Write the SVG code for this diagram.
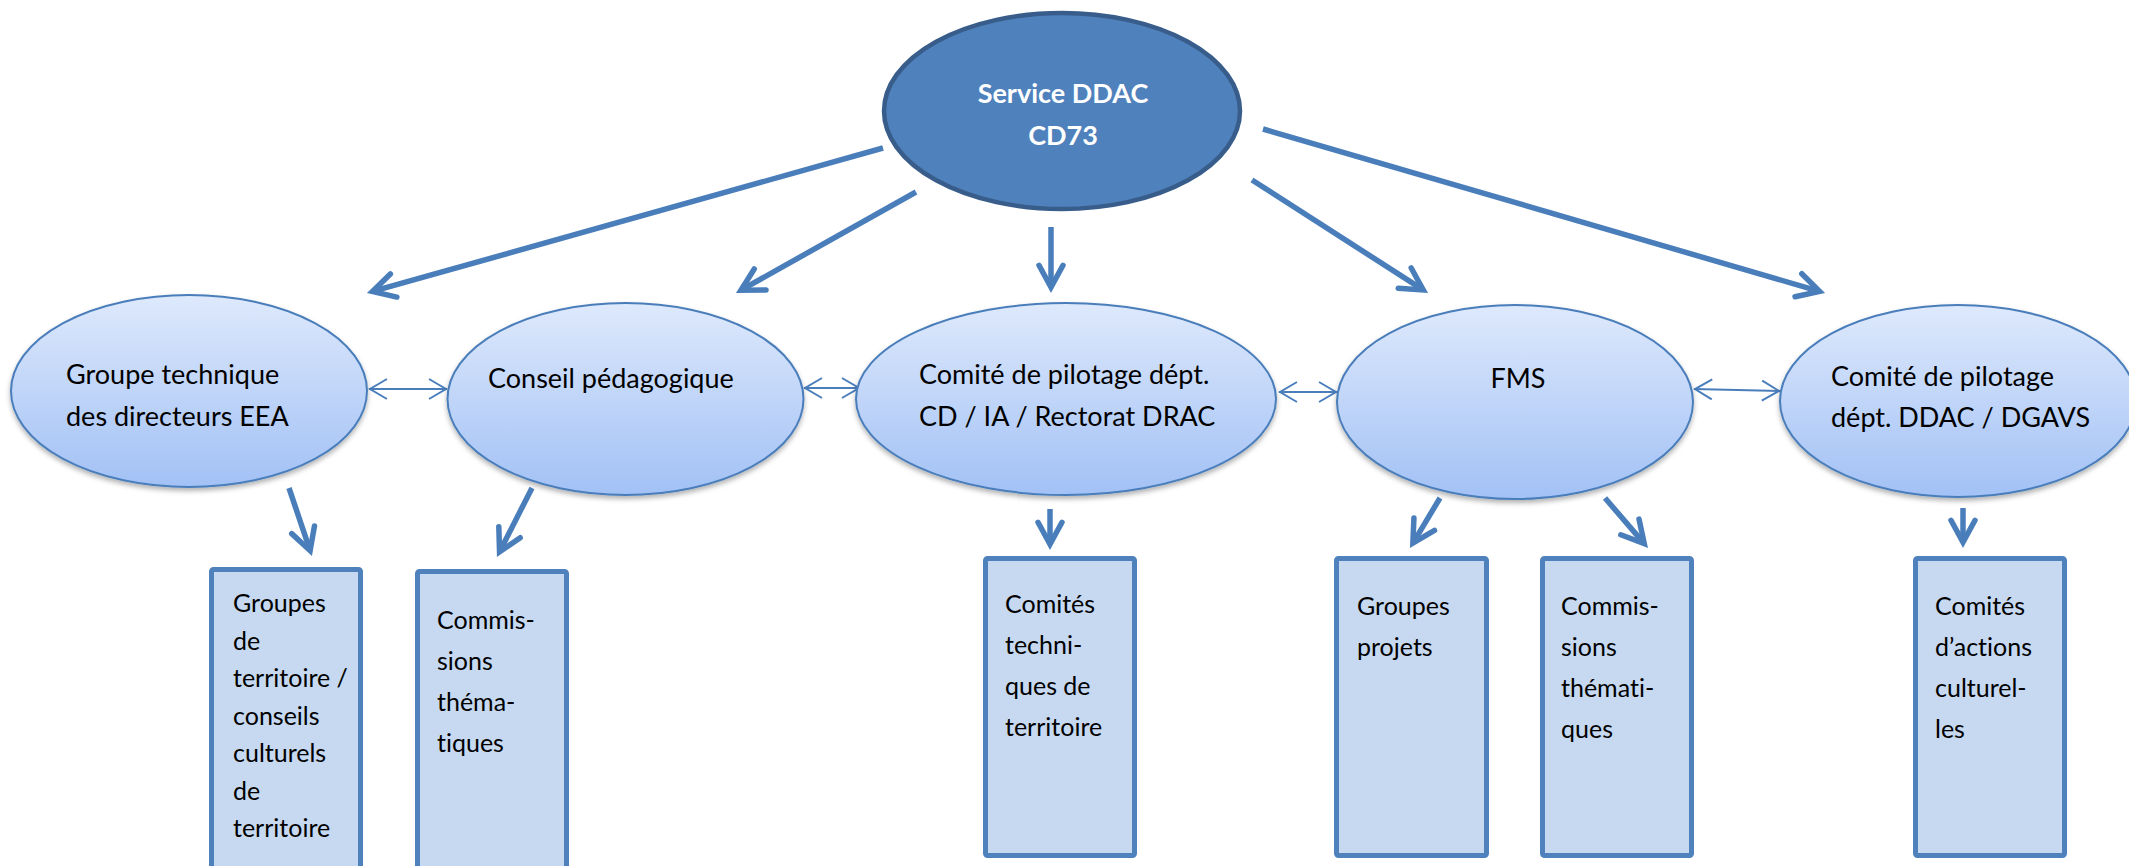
<svg xmlns="http://www.w3.org/2000/svg" width="2129" height="866" viewBox="0 0 2129 866">
<style>
text{font-variant-ligatures:none;font-feature-settings:"liga" 0,"clig" 0}
.lbl{font-family:Lato,"Open Sans","Liberation Sans",sans-serif;font-size:27px;fill:#000}
.box{font-family:Lato,"Open Sans","Liberation Sans",sans-serif;font-size:25px;fill:#000}
.top{font-family:Lato,"Open Sans","Liberation Sans",sans-serif;font-size:27px;font-weight:bold;fill:#fff}
.ell{fill:url(#g);stroke:#4a7ebb;stroke-width:2;filter:url(#sh)}
.rect{fill:#c6d9f1;stroke:#4f81bd;stroke-width:5}
.thick{fill:none;stroke:#4a7ebb;stroke-width:5.5;marker-end:url(#ah)}
.thin{fill:none;stroke:#4a7ebb;stroke-width:2;marker-start:url(#da);marker-end:url(#da)}
</style>
<defs>
<linearGradient id="g" x1="0" y1="0" x2="0" y2="1">
<stop offset="0" stop-color="#dee9fc"/>
<stop offset="1" stop-color="#a2c1f5"/>
</linearGradient>
<filter id="sh" x="-10%" y="-10%" width="120%" height="130%">
<feDropShadow dx="0" dy="3" stdDeviation="2.5" flood-color="#000" flood-opacity="0.3"/>
</filter>
<marker id="ah" viewBox="-30 -20 40 40" refX="0" refY="0" markerWidth="40" markerHeight="40" markerUnits="userSpaceOnUse" orient="auto" overflow="visible">
<path d="M-21 -12 L1 0 L-21 12" fill="none" stroke="#4a7ebb" stroke-width="5.5" stroke-linecap="round" stroke-linejoin="miter"/>
</marker>
<marker id="da" viewBox="-25 -15 30 30" refX="0" refY="0" markerWidth="30" markerHeight="30" markerUnits="userSpaceOnUse" orient="auto-start-reverse" overflow="visible">
<path d="M-18 -10 L-1 0 L-18 10" fill="none" stroke="#4a7ebb" stroke-width="2" stroke-linejoin="miter"/>
</marker>
</defs>
<rect width="2129" height="866" fill="#fff"/>

<g id="connectors">
<line class="thick" x1="883" y1="148" x2="373.4" y2="291.2"/>
<line class="thick" x1="916" y1="192" x2="741.8" y2="289.7"/>
<line class="thick" x1="1051" y1="227" x2="1051" y2="286.3"/>
<line class="thick" x1="1252" y1="180" x2="1422.4" y2="289.4"/>
<line class="thick" x1="1263" y1="129" x2="1818.6" y2="291.1"/>
<line class="thick" x1="289" y1="488" x2="309.8" y2="549.7"/>
<line class="thick" x1="532" y1="488" x2="500" y2="551"/>
<line class="thick" x1="1050" y1="509" x2="1050" y2="543.3"/>
<line class="thick" x1="1440" y1="498" x2="1413.4" y2="542.3"/>
<line class="thick" x1="1605" y1="498" x2="1643.6" y2="542.9"/>
<line class="thick" x1="1963" y1="508" x2="1963" y2="541.3"/>
<line class="thin" x1="369" y1="389" x2="447" y2="389"/>
<line class="thin" x1="804" y1="388" x2="860" y2="388"/>
<line class="thin" x1="1279" y1="392" x2="1337" y2="392"/>
<line class="thin" x1="1694" y1="389" x2="1780" y2="391"/>
</g>

<g id="service-ddac">
<ellipse cx="1062" cy="111" rx="178" ry="98" fill="#4f81bd" stroke="#385d8a" stroke-width="4.5"/>
<text class="top" x="1063" y="103" text-anchor="middle">Service DDAC</text>
<text class="top" x="1063" y="145" text-anchor="middle">CD73</text>
</g>

<g id="groupe-technique">
<ellipse class="ell" cx="189" cy="391" rx="178" ry="96"/>
<text class="lbl" x="66" y="384">Groupe technique</text>
<text class="lbl" x="66" y="426">des directeurs EEA</text>
</g>

<g id="conseil-pedagogique">
<ellipse class="ell" cx="625.5" cy="399" rx="178" ry="96"/>
<text class="lbl" x="488" y="388">Conseil pédagogique</text>
</g>

<g id="comite-pilotage-1">
<ellipse class="ell" cx="1066" cy="399" rx="210" ry="96"/>
<text class="lbl" x="919" y="384">Comité de pilotage dépt.</text>
<text class="lbl" x="919" y="426">CD / IA / Rectorat DRAC</text>
</g>

<g id="fms">
<ellipse class="ell" cx="1515" cy="402" rx="178" ry="97"/>
<text class="lbl" x="1518" y="388" text-anchor="middle">FMS</text>
</g>

<g id="comite-pilotage-2">
<ellipse class="ell" cx="1958" cy="401" rx="178" ry="96"/>
<text class="lbl" x="1831" y="386">Comité de pilotage</text>
<text class="lbl" x="1831" y="427">dépt. DDAC / DGAVS</text>
</g>

<g id="groupes-territoire">
<rect class="rect" x="211.5" y="569.5" width="149" height="330" rx="2"/>
<text class="box" x="233" y="612">Groupes</text>
<text class="box" x="233" y="649.5">de</text>
<text class="box" x="233" y="687">territoire /</text>
<text class="box" x="233" y="724.5">conseils</text>
<text class="box" x="233" y="762">culturels</text>
<text class="box" x="233" y="799.5">de</text>
<text class="box" x="233" y="837">territoire</text>
</g>

<g id="commissions-1">
<rect class="rect" x="417.5" y="571.5" width="149" height="330" rx="2"/>
<text class="box" x="437" y="629">Commis-</text>
<text class="box" x="437" y="670">sions</text>
<text class="box" x="437" y="711">théma-</text>
<text class="box" x="437" y="752">tiques</text>
</g>

<g id="comites-techniques">
<rect class="rect" x="985.5" y="558.5" width="149" height="297" rx="2"/>
<text class="box" x="1005" y="613">Comités</text>
<text class="box" x="1005" y="654">techni-</text>
<text class="box" x="1005" y="695">ques de</text>
<text class="box" x="1005" y="736">territoire</text>
</g>

<g id="groupes-projets">
<rect class="rect" x="1336.5" y="558.5" width="150" height="297" rx="2"/>
<text class="box" x="1357" y="615">Groupes</text>
<text class="box" x="1357" y="656">projets</text>
</g>

<g id="commissions-2">
<rect class="rect" x="1542.5" y="558.5" width="149" height="297" rx="2"/>
<text class="box" x="1561" y="615">Commis-</text>
<text class="box" x="1561" y="656">sions</text>
<text class="box" x="1561" y="697">thémati-</text>
<text class="box" x="1561" y="738">ques</text>
</g>

<g id="comites-actions">
<rect class="rect" x="1915.5" y="558.5" width="149" height="297" rx="2"/>
<text class="box" x="1935" y="615">Comités</text>
<text class="box" x="1935" y="656">d’actions</text>
<text class="box" x="1935" y="697">culturel-</text>
<text class="box" x="1935" y="738">les</text>
</g>
</svg>
